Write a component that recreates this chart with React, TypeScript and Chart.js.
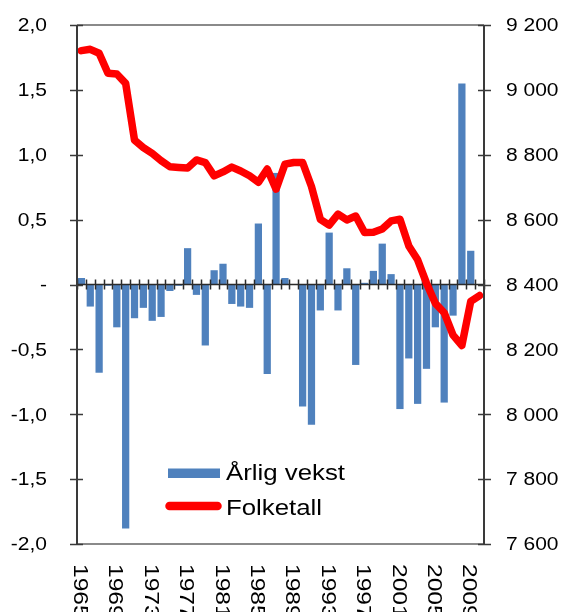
import React, { useEffect, useRef } from "react";
import { Chart, registerables } from "chart.js";

Chart.register(...registerables);

const years = [
  "1965", "1966", "1967", "1968", "1969", "1970", "1971", "1972", "1973", "1974",
  "1975", "1976", "1977", "1978", "1979", "1980", "1981", "1982", "1983", "1984",
  "1985", "1986", "1987", "1988", "1989", "1990", "1991", "1992", "1993", "1994",
  "1995", "1996", "1997", "1998", "1999", "2000", "2001", "2002", "2003", "2004",
  "2005", "2006", "2007", "2008", "2009", "2010",
];

const growth: (number | null)[] = [
  0.05, -0.17, -0.68, -0.01, -0.33, -1.88, -0.26, -0.18, -0.28, -0.25,
  -0.05, -0.01, 0.28, -0.08, -0.47, 0.11, 0.16, -0.15, -0.17, -0.18,
  0.47, -0.69, 0.86, 0.05, 0.0, -0.94, -1.08, -0.2, 0.4, -0.2,
  0.125, -0.62, 0.013, 0.105, 0.315, 0.08, -0.96, -0.57, -0.92, -0.65,
  -0.33, -0.91, -0.24, 1.55, 0.26, null,
];

const population = [
  9121, 9125, 9113, 9051, 9049, 9020, 8845, 8822, 8804, 8782,
  8763, 8761, 8759, 8784, 8776, 8735, 8747, 8762, 8750, 8735,
  8715, 8756, 8694, 8771, 8776, 8776, 8702, 8601, 8583, 8617,
  8599, 8611, 8560, 8561, 8571, 8596, 8601, 8519, 8476, 8404,
  8342, 8313, 8244, 8212, 8348, 8366,
];

const leftTickValues = [2, 1.5, 1, 0.5, 0, -0.5, -1, -1.5, -2];
const leftTickLabels = ["2,0", "1,5", "1,0", "0,5", "-", "-0,5", "-1,0", "-1,5", "-2,0"];
const rightTickValues = [9200, 9000, 8800, 8600, 8400, 8200, 8000, 7800, 7600];
const rightTickLabels = ["9 200", "9 000", "8 800", "8 600", "8 400", "8 200", "8 000", "7 800", "7 600"];
const xLabelYears = ["1965", "1969", "1973", "1977", "1981", "1985", "1989", "1993", "1997", "2001", "2005", "2009"];
const seriesNames = ["Årlig vekst", "Folketall"];

const BLUE = "#4F81BD";
const RED = "#FF0000";
const FONT = '"Liberation Sans", Arial, sans-serif';
const SX = 1.2;
const TICK_FS = 17.5;
const XTICK_FS = 20.5;
const LEGEND_FS = 21.5;

function stretchedText(
  ctx: CanvasRenderingContext2D,
  text: string,
  x: number,
  y: number,
  size: number,
  align: CanvasTextAlign,
  rotate = false
) {
  ctx.save();
  ctx.translate(x, y);
  if (rotate) ctx.rotate(Math.PI / 2);
  ctx.scale(SX, 1);
  ctx.font = `${size}px ${FONT}`;
  ctx.textAlign = align;
  ctx.textBaseline = "alphabetic";
  ctx.fillStyle = "#000";
  ctx.fillText(text, 0, rotate ? 0.358 * size : 0);
  ctx.restore();
}

const decorPlugin = {
  id: "decor",
  afterDatasetDraw(chart: any, args: any) {
    if (args.index !== 0) return;
    // zero (category) axis with tick marks at category boundaries
    const ctx: CanvasRenderingContext2D = chart.ctx;
    const ca = chart.chartArea;
    const y0 = chart.scales.y.getPixelForValue(0);
    const xs = chart.scales.x;
    const n = years.length;
    const w = (ca.right - ca.left) / n;
    ctx.save();
    ctx.strokeStyle = "#2b2b2b";
    ctx.lineWidth = 1.5;
    ctx.beginPath();
    ctx.moveTo(ca.left, y0);
    ctx.lineTo(ca.right, y0);
    for (let i = 0; i <= n; i++) {
      const x = Math.round(xs.getPixelForValue(0) - w / 2 + i * w) + 0.5;
      ctx.moveTo(x, y0 - 5);
      ctx.lineTo(x, y0 + 5);
    }
    ctx.stroke();
    ctx.restore();
  },
  afterDraw(chart: any) {
    const ctx: CanvasRenderingContext2D = chart.ctx;
    const ca = chart.chartArea;
    const ys = chart.scales.y;
    const y1s = chart.scales.y1;
    const xs = chart.scales.x;

    ctx.save();
    // top and bottom gray frame lines
    ctx.strokeStyle = "#8a8a8a";
    ctx.lineWidth = 2;
    ctx.beginPath();
    ctx.moveTo(ca.left, ca.top);
    ctx.lineTo(ca.right, ca.top);
    ctx.moveTo(ca.left, ca.bottom);
    ctx.lineTo(ca.right, ca.bottom);
    ctx.stroke();

    // vertical axes
    ctx.strokeStyle = "#3a3a3a";
    ctx.lineWidth = 2;
    ctx.beginPath();
    ctx.moveTo(ca.left, ca.top);
    ctx.lineTo(ca.left, ca.bottom);
    ctx.moveTo(ca.right, ca.top);
    ctx.lineTo(ca.right, ca.bottom);
    ctx.stroke();

    // tick marks crossing axes
    ctx.lineWidth = 1.5;
    ctx.beginPath();
    leftTickValues.forEach((v) => {
      const py = Math.round(ys.getPixelForValue(v)) + 0.5;
      ctx.moveTo(ca.left - 7, py);
      ctx.lineTo(ca.left + 6, py);
    });
    rightTickValues.forEach((v) => {
      const py = Math.round(y1s.getPixelForValue(v)) + 0.5;
      ctx.moveTo(ca.right - 6, py);
      ctx.lineTo(ca.right + 7, py);
    });
    ctx.stroke();
    ctx.restore();

    // tick labels
    leftTickValues.forEach((v, i) => {
      const py = ys.getPixelForValue(v);
      stretchedText(ctx, leftTickLabels[i], ca.left - 30, py + 0.358 * TICK_FS, TICK_FS, "right");
    });
    rightTickValues.forEach((v, i) => {
      const py = y1s.getPixelForValue(v);
      stretchedText(ctx, rightTickLabels[i], ca.right + 22, py + 0.358 * TICK_FS, TICK_FS, "left");
    });
    xLabelYears.forEach((yr) => {
      const idx = years.indexOf(yr);
      const px = xs.getPixelForValue(idx);
      stretchedText(ctx, yr, px, ca.bottom + 20, XTICK_FS, "left", true);
    });

    // legend
    ctx.save();
    ctx.fillStyle = BLUE;
    ctx.fillRect(168, 468.5, 52, 9.5);
    ctx.strokeStyle = RED;
    ctx.lineWidth = 8.5;
    ctx.lineCap = "round";
    ctx.beginPath();
    ctx.moveTo(169.5, 506);
    ctx.lineTo(217.5, 506);
    ctx.stroke();
    ctx.restore();
    stretchedText(ctx, seriesNames[0], 226, 479.5, LEGEND_FS, "left");
    stretchedText(ctx, seriesNames[1], 226, 515, LEGEND_FS, "left");
  },
};

export default function App() {
  const canvasRef = useRef<HTMLCanvasElement | null>(null);

  useEffect(() => {
    if (!canvasRef.current) return;
    const chart = new Chart(canvasRef.current, {
      type: "bar",
      data: {
        labels: years,
        datasets: [
          {
            type: "bar",
            label: seriesNames[0],
            data: growth,
            backgroundColor: BLUE,
            borderWidth: 0,
            barPercentage: 0.82,
            categoryPercentage: 1,
            yAxisID: "y",
            order: 2,
          } as any,
          {
            type: "line",
            label: seriesNames[1],
            data: population,
            borderColor: RED,
            backgroundColor: RED,
            borderWidth: 7.5,
            pointRadius: 0,
            pointHoverRadius: 0,
            tension: 0,
            borderJoinStyle: "round",
            borderCapStyle: "round",
            yAxisID: "y1",
            order: 1,
          } as any,
        ],
      },
      options: {
        animation: false,
        responsive: false,
        devicePixelRatio: 1,
        layout: { padding: { top: 25, left: 77, right: 78, bottom: 68 } },
        plugins: {
          legend: { display: false },
          tooltip: { enabled: false },
        },
        scales: {
          x: { type: "category", offset: true, display: false },
          y: { position: "left", min: -2, max: 2, display: false },
          y1: { position: "right", min: 7600, max: 9200, display: false },
        },
      },
      plugins: [decorPlugin],
    });
    return () => chart.destroy();
  }, []);

  return (
    <div style={{ position: "absolute", left: 0, top: 0, width: 562, height: 612, background: "#fff" }}>
      <canvas ref={canvasRef} width={562} height={612} style={{ display: "block" }} />
    </div>
  );
}
